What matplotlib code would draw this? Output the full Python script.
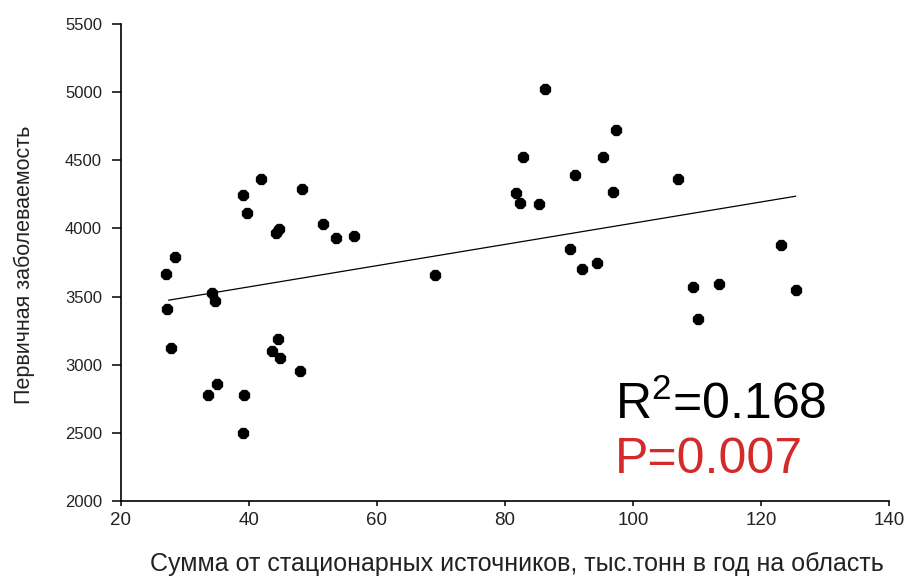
import numpy as np
import matplotlib
matplotlib.use("Agg")
import matplotlib.pyplot as plt

# --------------------------
# DATA
# --------------------------

emissao = [28.5, 27.1, 27.3, 27.9, 34.2, 34.8, 33.6, 35.0, 39.3, 39.1,
           44.5, 43.6, 44.8, 48.0, 39.1, 39.7, 41.9, 44.2, 44.7, 48.3,
           51.6, 53.7, 56.4, 69.1, 86.3, 97.4, 82.8, 95.4, 91.0, 81.7,
           82.3, 85.3, 96.9, 90.2, 92.0, 94.4, 107.1, 123.2, 109.4, 113.5,
           125.4, 110.2]

morbidade = [3790, 3668, 3411, 3124, 3524, 3470, 2779, 2855, 2779, 2500,
             3190, 3102, 3048, 2951, 4246, 4114, 4364, 3969, 3994, 4288,
             4033, 3932, 3945, 3658, 5025, 4726, 4523, 4523, 4393, 4259,
             4190, 4180, 4268, 3849, 3700, 3744, 4362, 3879, 3572, 3592,
             3548, 3335]

x_ticks = [20, 40, 60, 80, 100, 120, 140]
y_ticks = [2000, 2500, 3000, 3500, 4000, 4500, 5000, 5500]

R2_TEXTO = "R$^2$=0.168"
P_TEXTO = "P=0.007"

# --------------------------
# FIGURA
# --------------------------

plt.rcParams["font.family"] = ["Liberation Sans", "DejaVu Sans"]
plt.rcParams["mathtext.fontset"] = "custom"
plt.rcParams["mathtext.rm"] = "Liberation Sans"

fig = plt.figure(figsize=(9.07, 5.78), dpi=100)
ax = fig.add_axes([0.1331, 0.1337, 0.8471, 0.8243])

ax.scatter(emissao, morbidade, marker="8", s=60, color="black", zorder=3)

# linha de regressao
x = np.array(emissao)
y = np.array(morbidade)
a, b = np.polyfit(x, y, 1)
xl = np.array([x.min() + 0.4, x.max()])
ax.plot(xl, a * xl + b, color="black", linewidth=0.9)

ax.set_xlim(20, 140)
ax.set_ylim(2000, 5500)
ax.set_xticks(x_ticks)
ax.set_yticks(y_ticks)

for s in ["top", "right"]:
    ax.spines[s].set_visible(False)
for s in ["left", "bottom"]:
    ax.spines[s].set_linewidth(1.2)

ax.tick_params(axis="x", direction="out", length=3.8, width=1.1,
               labelsize=13.5, pad=4, labelcolor="#222222")
ax.tick_params(axis="y", direction="out", length=6.5, width=1.1,
               labelsize=12, pad=7, labelcolor="#222222")

ax.set_xlabel("Сумма от стационарных источников, тыс.тонн в год на область",
              fontsize=18, color="#222222")
ax.xaxis.set_label_coords(0.516, -0.108)
ax.set_ylabel("Первичная заболеваемость", fontsize=15.5, color="#222222")
ax.yaxis.set_label_coords(-0.111, 0.495)

ax.text(0.643, 0.202, R2_TEXTO, transform=ax.transAxes, fontsize=36,
        color="black", va="center", ha="left")
ax.text(0.643, 0.085, P_TEXTO, transform=ax.transAxes, fontsize=36,
        color="#d42a2a", va="center", ha="left")

fig.savefig("out.png", dpi=100)
plt.close()
